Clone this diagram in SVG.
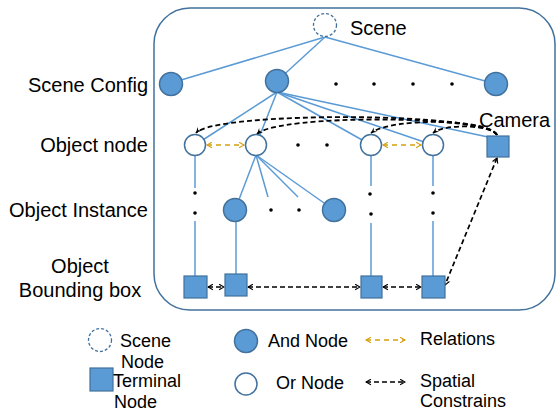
<svg xmlns="http://www.w3.org/2000/svg" width="557" height="412" viewBox="0 0 557 412">
<style>
text{font-family:"Liberation Sans",Arial,sans-serif;fill:#000}
.lbl{font-size:20px}
.lg{font-size:18px}
.and{fill:#5B9BD5;stroke:#41719C;stroke-width:1.5}
.or{fill:#fff;stroke:#41719C;stroke-width:1.5}
.term{fill:#5B9BD5;stroke:#41719C;stroke-width:1.2}
.scene{fill:#fff;stroke:#41719C;stroke-width:1.3;stroke-dasharray:3 2}
.edge{stroke:#5B9BD5;stroke-width:1.5;fill:none}
.rel{stroke:#D59F0F;stroke-width:1.6;stroke-dasharray:5 4;fill:none;marker-start:url(#ao);marker-end:url(#ao)}
.sp{stroke:#000;stroke-width:1.7;stroke-dasharray:5 3;fill:none;marker-start:url(#ab);marker-end:url(#ab)}
.cv{stroke:#000;stroke-width:1.8;stroke-dasharray:5 3;fill:none;marker-end:url(#af)}
.dot{fill:#000}
</style>
<defs>
<marker id="ao" viewBox="0 0 10 10" refX="9" refY="5" markerWidth="7" markerHeight="7" markerUnits="userSpaceOnUse" orient="auto-start-reverse"><path d="M2,1 L9,5 L2,9" fill="none" stroke="#D59F0F" stroke-width="1.6"/></marker>
<marker id="ab" viewBox="0 0 10 10" refX="9" refY="5" markerWidth="7" markerHeight="7" markerUnits="userSpaceOnUse" orient="auto-start-reverse"><path d="M2,1 L9,5 L2,9" fill="none" stroke="#000" stroke-width="1.6"/></marker>
<marker id="af" viewBox="0 0 10 10" refX="9" refY="5" markerWidth="7" markerHeight="7" markerUnits="userSpaceOnUse" orient="auto"><path d="M1,1 L9,5 L1,9 L4,5 Z" fill="#000"/></marker>
</defs>

<rect id="frame" x="154" y="8" width="401" height="302" rx="36" ry="36" fill="none" stroke="#41719C" stroke-width="1.5"/>

<g id="labels">
<text class="lbl" x="148" y="92" text-anchor="end">Scene Config</text>
<text class="lbl" x="148" y="152" text-anchor="end">Object node</text>
<text class="lbl" x="148" y="217" text-anchor="end">Object Instance</text>
<text class="lbl" x="80" y="273" text-anchor="middle">Object</text>
<text class="lbl" x="80" y="297" text-anchor="middle">Bounding box</text>
</g>

<g id="connectors">
<line class="edge" x1="325" y1="37" x2="171" y2="83"/>
<line class="edge" x1="325" y1="37" x2="277" y2="81"/>
<line class="edge" x1="325" y1="37" x2="496" y2="84"/>
<line class="edge" x1="277" y1="92" x2="195" y2="145"/>
<line class="edge" x1="277" y1="92" x2="256" y2="145"/>
<line class="edge" x1="277" y1="92" x2="371" y2="145"/>
<line class="edge" x1="277" y1="92" x2="433" y2="145"/>
<line class="edge" x1="277" y1="92" x2="488" y2="137"/>
<line class="edge" x1="256" y1="155" x2="235" y2="210"/>
<line class="edge" x1="256" y1="155" x2="268" y2="197"/>
<line class="edge" x1="256" y1="155" x2="298" y2="197"/>
<line class="edge" x1="256" y1="155" x2="334" y2="210"/>
<line class="edge" x1="195" y1="155" x2="195" y2="188"/>
<line class="edge" x1="195" y1="221" x2="195" y2="277"/>
<line class="edge" x1="236" y1="221" x2="236" y2="275"/>
<line class="edge" x1="371" y1="155" x2="371" y2="186"/>
<line class="edge" x1="371" y1="223" x2="371" y2="277"/>
<line class="edge" x1="433" y1="155" x2="433" y2="186"/>
<line class="edge" x1="433" y1="221" x2="433" y2="277"/>
<line class="rel" x1="207" y1="145" x2="244" y2="145"/>
<line class="rel" x1="383" y1="145" x2="421" y2="145"/>
<path class="cv" d="M497,135 C490,112 215,111 196,133"/>
<path class="cv" d="M497,135 C488,115 278,114 257,134"/>
<path class="cv" d="M497,135 C490,119 392,117 371,133"/>
<path class="cv" d="M497,135 C492,125 446,123 433,133"/>
<line class="sp" x1="497" y1="158" x2="445" y2="285"/>
<line class="sp" x1="208" y1="287" x2="224" y2="287"/>
<line class="sp" x1="248" y1="287" x2="360" y2="287"/>
<line class="sp" x1="383" y1="287" x2="421" y2="287"/>
</g>

<g id="dots">
<circle class="dot" cx="336" cy="84" r="1.8"/>
<circle class="dot" cx="374" cy="84" r="1.8"/>
<circle class="dot" cx="413" cy="84" r="1.8"/>
<circle class="dot" cx="452" cy="84" r="1.8"/>
<circle class="dot" cx="298" cy="145" r="1.8"/>
<circle class="dot" cx="327" cy="145" r="1.8"/>
<circle class="dot" cx="271" cy="210" r="1.8"/>
<circle class="dot" cx="299" cy="210" r="1.8"/>
<circle class="dot" cx="195" cy="193" r="1.8"/>
<circle class="dot" cx="195" cy="213" r="1.8"/>
<circle class="dot" cx="370" cy="194" r="1.8"/>
<circle class="dot" cx="371" cy="214" r="1.8"/>
<circle class="dot" cx="433" cy="193" r="1.8"/>
<circle class="dot" cx="433" cy="213" r="1.8"/>
</g>

<g id="scene"><circle class="scene" cx="325" cy="25" r="11.5"/><text class="lbl" x="350" y="35">Scene</text></g>
<g id="config1"><circle class="and" cx="171" cy="84" r="11.5"/></g>
<g id="config2"><circle class="and" cx="277" cy="81" r="11.5"/></g>
<g id="config3"><circle class="and" cx="496" cy="84" r="11.5"/></g>
<g id="obj1"><circle class="or" cx="195" cy="145" r="10.5"/></g>
<g id="obj2"><circle class="or" cx="256" cy="145" r="10.5"/></g>
<g id="obj3"><circle class="or" cx="371" cy="145" r="10.5"/></g>
<g id="obj4"><circle class="or" cx="433" cy="145" r="10.5"/></g>
<g id="camera"><rect class="term" x="487" y="136" width="22" height="21"/><text class="lbl" x="479" y="127">Camera</text></g>
<g id="inst1"><circle class="and" cx="235" cy="210" r="11.5"/></g>
<g id="inst2"><circle class="and" cx="334" cy="210" r="11.5"/></g>
<g id="bb1"><rect class="term" x="184" y="276" width="23" height="22"/></g>
<g id="bb2"><rect class="term" x="225" y="274" width="22" height="22"/></g>
<g id="bb3"><rect class="term" x="361" y="276" width="21" height="22"/></g>
<g id="bb4"><rect class="term" x="422" y="276" width="23" height="22"/></g>

<g id="legend">
<circle class="scene" cx="100" cy="340" r="11.5"/>
<text class="lg" x="120" y="347">Scene</text>
<text class="lg" x="121" y="368">Node</text>
<rect class="term" x="90" y="368" width="23" height="23"/>
<text class="lg" x="113" y="387">Terminal</text>
<text class="lg" x="114" y="408">Node</text>
<circle class="and" cx="246" cy="341" r="11.5"/>
<text class="lg" x="268" y="347">And Node</text>
<circle class="or" cx="246" cy="384" r="11"/>
<text class="lg" x="276" y="389">Or Node</text>
<line class="rel" x1="366" y1="340" x2="405" y2="340"/>
<text class="lg" x="420" y="345">Relations</text>
<line class="sp" x1="366" y1="382" x2="405" y2="382"/>
<text class="lg" x="420" y="387">Spatial</text>
<text class="lg" x="420" y="407">Constrains</text>
</g>
</svg>
